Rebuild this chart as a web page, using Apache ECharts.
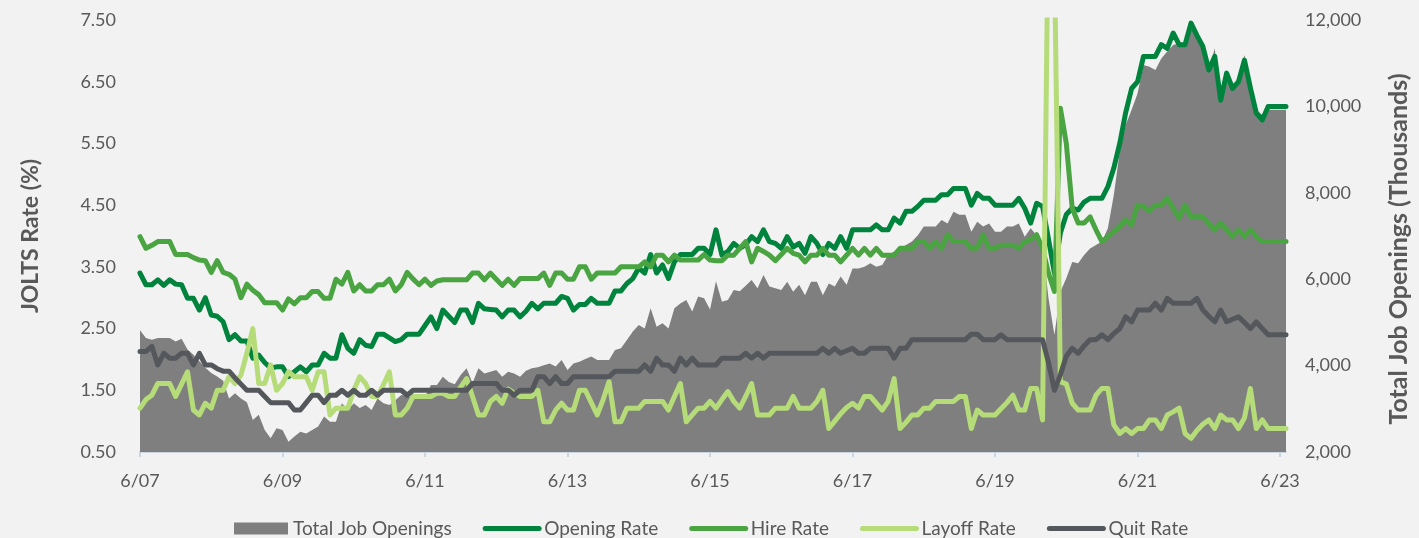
<!DOCTYPE html>
<html><head><meta charset="utf-8">
<script src="https://cdn.jsdelivr.net/npm/echarts@6/dist/echarts.min.js"></script>
<style>html,body{margin:0;padding:0;background:#f2f2f2}#c{width:1419px;height:538px}</style>
</head><body><div id="c"></div>
<script>
// Monthly categories, June 2007 .. July 2023
const startYear = 2007, startMonth = 6, monthCount = 194;
const categories = [];
for (let k = 0; k < monthCount; k++) {
  const m = (startMonth - 1 + k) % 12 + 1;
  const y = startYear + Math.floor((startMonth - 1 + k) / 12);
  categories.push(m + '/' + String(y % 100).padStart(2, '0'));
}
const seriesNames = ['Total Job Openings', 'Opening Rate', 'Hire Rate', 'Layoff Rate', 'Quit Rate'];

// Total job openings (thousands) - right axis
const totalOpenings = [
4820,4640,4600,4640,4640,4640,4560,4620,4370,4250,4100,3950,3830,3750,3650,3240,3360,3240,3150,2740,
2860,2510,2320,2550,2510,2240,2360,2470,2430,2510,2590,2820,2700,2700,3130,2970,3130,3020,3090,2970,
3240,3130,3090,3200,3320,3300,3240,3260,3280,3550,3550,3740,3620,3570,3780,3940,3600,3940,3820,3860,
3900,3740,3860,3820,3740,3880,3940,3960,4010,4050,3980,4130,3900,4050,4090,4150,4210,4130,4130,4130,
4360,4400,4590,4790,4940,4860,5330,4900,4980,4860,5330,5440,5520,5250,5600,5560,5300,5950,5480,5520,
5750,5720,5850,5980,5790,6100,5830,5790,5750,5940,5710,5870,5630,5940,5940,5630,5900,5830,6060,5870,
6250,6250,6290,6370,6290,6330,6560,6640,6710,6790,6870,7020,7220,7220,7220,7370,7290,7560,7490,7490,
7100,7330,7220,7290,7100,7100,7220,7220,7290,6980,7180,7020,6800,5560,4710,5710,6020,6400,6370,6560,
6710,6790,6870,7180,7950,8950,9570,9920,10300,10960,10920,10840,11110,11270,11420,11460,11420,11920,11730,11400,
10850,11340,10150,10730,10420,10600,11190,10500,9920,9800,9920,9920,9920,9920
];
// Rates (%) - left axis
const openingRate = [
3.40,3.21,3.21,3.29,3.20,3.29,3.22,3.21,2.99,2.99,2.80,3.00,2.72,2.70,2.61,2.32,2.40,2.30,2.30,2.02,
2.07,1.95,1.86,1.88,1.88,1.72,1.80,1.88,1.80,1.91,1.91,2.10,2.02,2.02,2.40,2.18,2.10,2.32,2.23,2.21,
2.41,2.41,2.35,2.29,2.32,2.41,2.41,2.41,2.55,2.69,2.50,2.80,2.70,2.60,2.80,2.80,2.60,2.91,2.82,2.81,
2.80,2.69,2.80,2.80,2.69,2.78,2.91,2.82,2.91,2.91,2.91,3.02,2.99,2.80,2.89,2.89,2.99,2.91,2.91,2.91,
3.11,3.11,3.23,3.31,3.48,3.40,3.70,3.40,3.53,3.31,3.58,3.70,3.70,3.70,3.80,3.80,3.70,4.10,3.69,3.75,
3.88,3.80,3.86,3.99,3.91,4.10,3.91,3.88,3.80,3.99,3.82,3.88,3.72,3.99,3.88,3.70,3.88,3.80,3.99,3.80,
4.10,4.10,4.10,4.10,4.18,4.10,4.10,4.29,4.21,4.40,4.40,4.48,4.58,4.58,4.58,4.67,4.67,4.77,4.77,4.77,
4.50,4.69,4.61,4.61,4.50,4.50,4.50,4.50,4.61,4.45,4.21,4.53,4.48,3.95,3.40,4.05,4.35,4.45,4.42,4.55,
4.61,4.61,4.61,4.80,5.10,5.50,6.00,6.39,6.50,6.91,6.91,6.91,7.10,7.04,7.29,7.10,7.10,7.45,7.25,7.07,
6.69,6.91,6.20,6.64,6.39,6.50,6.85,6.40,5.99,5.88,6.10,6.10,6.10,6.10
];
const hireRate = [
3.99,3.80,3.85,3.91,3.91,3.91,3.70,3.70,3.70,3.65,3.61,3.60,3.41,3.60,3.41,3.38,3.30,3.00,3.22,3.12,
3.05,2.92,2.92,2.92,2.80,2.98,2.90,3.00,3.00,3.10,3.10,2.99,2.99,3.30,3.22,3.41,3.11,3.21,3.11,3.11,
3.21,3.21,3.30,3.11,3.21,3.41,3.30,3.21,3.30,3.20,3.27,3.29,3.29,3.29,3.29,3.29,3.40,3.40,3.29,3.40,
3.30,3.20,3.30,3.20,3.31,3.31,3.31,3.31,3.40,3.20,3.40,3.40,3.30,3.30,3.50,3.50,3.30,3.40,3.40,3.40,
3.40,3.50,3.50,3.50,3.50,3.58,3.50,3.69,3.69,3.58,3.69,3.61,3.61,3.61,3.61,3.70,3.61,3.60,3.60,3.69,
3.69,3.80,3.91,3.58,3.80,3.75,3.69,3.60,3.70,3.80,3.72,3.69,3.58,3.69,3.69,3.80,3.69,3.69,3.58,3.69,
3.80,3.69,3.80,3.69,3.80,3.69,3.69,3.69,3.80,3.80,3.80,3.91,3.91,3.80,3.91,3.80,4.02,3.91,3.91,3.91,
3.80,3.80,4.02,3.80,3.80,3.85,3.85,3.85,3.80,3.91,3.94,4.02,3.80,3.40,3.10,6.07,5.50,4.45,4.21,4.21,
4.31,4.10,3.91,3.99,4.07,4.15,4.26,4.18,4.50,4.48,4.40,4.50,4.50,4.61,4.45,4.29,4.50,4.31,4.31,4.31,
4.20,4.10,4.21,4.10,3.99,4.10,3.99,4.10,3.99,3.91,3.91,3.91,3.91,3.91
];
const layoffRate = [
1.21,1.35,1.42,1.61,1.61,1.61,1.40,1.60,1.80,1.18,1.10,1.29,1.21,1.50,1.50,1.72,1.61,1.75,2.10,2.50,
1.61,1.61,1.91,1.50,1.61,1.80,1.72,1.72,1.72,1.50,1.80,1.80,1.10,1.21,1.21,1.21,1.50,1.72,1.61,1.40,
1.40,1.59,1.80,1.10,1.10,1.21,1.40,1.40,1.40,1.40,1.45,1.45,1.40,1.40,1.55,1.69,1.40,1.10,1.10,1.32,
1.40,1.29,1.52,1.45,1.40,1.40,1.40,1.50,0.99,0.99,1.18,1.29,1.18,1.18,1.50,1.50,1.30,1.10,1.35,1.64,
0.99,0.99,1.21,1.21,1.21,1.32,1.32,1.32,1.32,1.18,1.40,1.61,0.99,1.10,1.21,1.21,1.32,1.21,1.35,1.48,
1.32,1.21,1.40,1.61,1.10,1.10,1.10,1.21,1.21,1.21,1.40,1.21,1.21,1.21,1.32,1.50,0.88,1.00,1.12,1.22,
1.29,1.21,1.40,1.40,1.29,1.18,1.32,1.69,0.88,0.98,1.10,1.10,1.21,1.21,1.32,1.32,1.32,1.32,1.40,1.40,
0.88,1.18,1.10,1.10,1.10,1.20,1.30,1.42,1.18,1.18,1.53,1.53,1.02,9.50,8.50,1.64,1.60,1.29,1.18,1.18,
1.18,1.42,1.53,1.53,0.94,0.80,0.88,0.80,0.88,0.88,1.02,1.02,0.88,1.10,1.15,1.21,0.80,0.72,0.85,0.95,
1.02,0.88,1.10,1.02,1.02,0.88,1.05,1.53,0.88,1.02,0.88,0.88,0.88,0.88
];
const quitRate = [
2.13,2.13,2.21,1.91,2.10,2.02,2.02,2.10,2.10,1.91,2.10,1.91,1.91,1.85,1.81,1.81,1.70,1.60,1.50,1.50,
1.50,1.40,1.30,1.30,1.30,1.30,1.18,1.18,1.30,1.42,1.42,1.30,1.42,1.42,1.50,1.42,1.50,1.42,1.42,1.50,
1.42,1.50,1.50,1.50,1.50,1.42,1.50,1.50,1.50,1.50,1.50,1.50,1.50,1.50,1.50,1.50,1.61,1.61,1.61,1.61,
1.61,1.50,1.50,1.42,1.50,1.50,1.50,1.72,1.72,1.61,1.72,1.61,1.61,1.72,1.72,1.72,1.72,1.72,1.72,1.72,
1.81,1.81,1.81,1.81,1.81,1.91,1.81,2.02,1.91,1.91,1.81,2.02,1.91,2.02,1.91,1.91,1.91,1.91,2.02,2.02,
2.02,2.02,2.10,2.02,2.10,2.02,2.10,2.10,2.10,2.10,2.10,2.10,2.10,2.10,2.10,2.18,2.10,2.18,2.10,2.14,
2.18,2.10,2.10,2.18,2.18,2.18,2.18,2.02,2.18,2.18,2.32,2.32,2.32,2.32,2.32,2.32,2.32,2.32,2.32,2.32,
2.41,2.41,2.32,2.32,2.32,2.40,2.32,2.32,2.32,2.32,2.32,2.32,2.32,1.95,1.50,1.75,2.05,2.18,2.10,2.22,
2.32,2.32,2.40,2.32,2.42,2.50,2.69,2.61,2.80,2.80,2.80,2.91,2.80,2.99,2.91,2.91,2.91,2.91,2.99,2.80,
2.70,2.61,2.80,2.61,2.65,2.69,2.60,2.50,2.61,2.50,2.40,2.40,2.40,2.40
];
const leftTicks = [0.5, 1.5, 2.5, 3.5, 4.5, 5.5, 6.5, 7.5];
const rightTicks = [2000, 4000, 6000, 8000, 10000, 12000];

const colors = { total: '#7f7f7f', opening: '#00843d', hire: '#4aa442', layoff: '#b5dc78', quit: '#54575b' };
const FONT = 'Lato';
const labelColor = '#595959';

function lineSeries(name, data, color) {
  return {
    name, type: 'line', data, yAxisIndex: 0, symbol: 'none', showSymbol: false,
    lineStyle: { color, width: 5, join: 'round', cap: 'round' },
    itemStyle: { color }, emphasis: { disabled: true }
  };
}
function legendLine(name) {
  return { name, itemStyle: { opacity: 0 }, lineStyle: { width: 5, cap: 'round' } };
}

const chart = echarts.init(document.getElementById('c'), null, { renderer: 'canvas' });
chart.setOption({
  backgroundColor: '#f2f2f2',
  animation: false,
  textStyle: { fontFamily: FONT },
  grid: { left: 140, right: 126, top: 20, bottom: 86, containLabel: false },
  legend: {
    left: 229, top: 514,
    itemWidth: 54, itemHeight: 12, itemGap: 31,
    textStyle: { fontFamily: FONT, fontSize: 19, color: labelColor },
    data: [
      { name: seriesNames[0], icon: 'rect' },
      legendLine(seriesNames[1]), legendLine(seriesNames[2]), legendLine(seriesNames[3]), legendLine(seriesNames[4])
    ]
  },
  xAxis: {
    type: 'category', data: categories, boundaryGap: false,
    axisLine: { lineStyle: { color: '#ccd6e2', width: 2 } },
    axisTick: { show: true, interval: 23, length: 5, lineStyle: { color: '#ccd6e2', width: 2 } },
    axisLabel: { interval: 23, color: labelColor, fontSize: 18, fontFamily: FONT, margin: 20 },
    splitLine: { show: false }
  },
  yAxis: [
    {
      type: 'value', min: 0.5, max: 7.5, interval: 0.5,
      axisLine: { show: false }, axisTick: { show: false }, splitLine: { show: false },
      axisLabel: {
        color: labelColor, fontSize: 18, fontFamily: FONT, margin: 24,
        formatter: v => leftTicks.some(t => Math.abs(t - v) < 1e-6) ? v.toFixed(2) : ''
      },
      name: 'JOLTS Rate (%)', nameLocation: 'middle', nameGap: 98,
      nameTextStyle: { color: labelColor, fontSize: 23, fontWeight: 'bold', fontFamily: FONT }
    },
    {
      type: 'value', min: 2000, max: 12000, interval: 2000, position: 'right',
      axisLine: { show: false }, axisTick: { show: false }, splitLine: { show: false },
      axisLabel: {
        color: labelColor, fontSize: 18, fontFamily: FONT, margin: 19,
        formatter: v => rightTicks.includes(v) ? v.toLocaleString('en-US') : ''
      },
      name: 'Total Job Openings (Thousands)', nameLocation: 'middle', nameGap: 100,
      nameTextStyle: { color: labelColor, fontSize: 25, fontWeight: 'bold', fontFamily: FONT, padding: [0, 26, 0, 0] }
    }
  ],
  series: [
    {
      name: seriesNames[0], type: 'line', data: totalOpenings, yAxisIndex: 1,
      symbol: 'none', showSymbol: false,
      lineStyle: { width: 0, color: colors.total },
      itemStyle: { color: colors.total },
      areaStyle: { color: colors.total, opacity: 1 },
      emphasis: { disabled: true }
    },
    lineSeries(seriesNames[1], openingRate, colors.opening),
    lineSeries(seriesNames[2], hireRate, colors.hire),
    lineSeries(seriesNames[3], layoffRate, colors.layoff),
    lineSeries(seriesNames[4], quitRate, colors.quit)
  ]
});
</script>
</body></html>
